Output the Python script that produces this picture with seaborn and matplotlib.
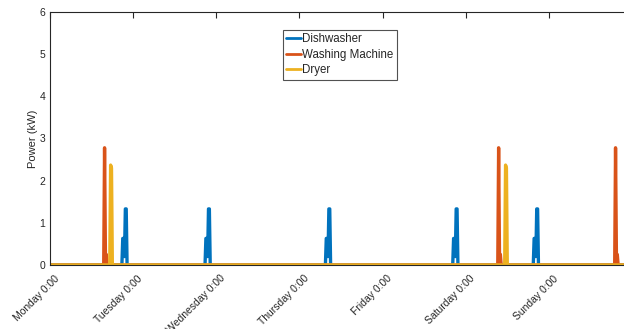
import numpy as np
import pandas as pd
import matplotlib
matplotlib.use("Agg")
import matplotlib.pyplot as plt
import matplotlib.transforms as mtransforms
import seaborn as sns

# Weekly appliance schedule, 15-minute resolution (hours since Monday 0:00)
day_labels = ["Monday 0:00", "Tuesday 0:00", "Wednesday 0:00", "Thursday 0:00",
              "Friday 0:00", "Saturday 0:00", "Sunday 0:00"]
appliances = ["Dishwasher", "Washing Machine", "Dryer"]

# Power draw of one cycle, kW per 15-minute step
dishwasher_cycle_kw = [0.63, 0.63, 0.2, 1.33, 1.33]
washer_cycle_kw = [2.78, 0.25, 0.25]
dryer_cycle_kw = [2.37, 2.3]

# Cycle start times, hours after Monday 0:00
dishwasher_start_h = [21.0, 45.0, 79.75, 116.5, 139.75]
washer_start_h = [15.75, 129.5, 163.25]
dryer_start_h = [17.5, 131.5]

steps_per_hour = 4
n_steps = 7 * 24 * steps_per_hour
time_days = np.arange(n_steps + 1) / (24 * steps_per_hour)


def schedule(cycle, starts):
    power = np.zeros(n_steps + 1)
    for h in starts:
        i = int(round(h * steps_per_hour))
        power[i:i + len(cycle)] = cycle[:max(0, n_steps + 1 - i)]
    return power


series = {
    "Dishwasher": schedule(dishwasher_cycle_kw, dishwasher_start_h),
    "Washing Machine": schedule(washer_cycle_kw, washer_start_h),
    "Dryer": schedule(dryer_cycle_kw, dryer_start_h),
}
df = pd.concat(
    [pd.DataFrame({"t": time_days, "power": p, "appliance": name}) for name, p in series.items()],
    ignore_index=True,
)

sns.set_style("white")
plt.rcParams["font.family"] = ["Liberation Sans", "DejaVu Sans"]

W, H = 624, 329
fig = plt.figure(figsize=(W / 100, H / 100), dpi=100)
ax = fig.add_axes([50 / W, (H - 265) / H, 582 / W, 253 / H])

palette = {"Dishwasher": "#0072BD", "Washing Machine": "#D95319", "Dryer": "#EDB120"}
sns.lineplot(data=df, x="t", y="power", hue="appliance", hue_order=appliances,
             palette=palette, estimator=None, linewidth=2.4, ax=ax)

ax.set_xlim(0, 7)
ax.set_ylim(0, 6)
ax.set_xticks(range(7))
ax.set_xticklabels(day_labels, rotation=45, ha="right", rotation_mode="anchor")
ax.set_yticks(range(7))
ax.set_xlabel("")
ax.set_ylabel("Power (kW)", fontsize=8, color="#262626")
ax.yaxis.set_label_coords(-0.02, 0.5)

for s in ax.spines.values():
    s.set_color("#262626")
    s.set_linewidth(0.8)
ax.tick_params(direction="in", length=4, width=0.8, top=True, right=True,
               labelsize=7.5, labelcolor="#262626", color="#262626")
ax.tick_params(axis="x", pad=6)

# nudge the rotated day labels slightly to the right of their ticks
shift = mtransforms.ScaledTranslation(4 / 100, 0, fig.dpi_scale_trans)
for lbl in ax.get_xticklabels():
    lbl.set_transform(lbl.get_transform() + shift)

leg = ax.legend(loc="upper left", bbox_to_anchor=(0.400, 0.93), fontsize=8.3,
                frameon=True, fancybox=False, handlelength=1.3, handletextpad=0.1,
                borderpad=0.3, labelspacing=0.3, borderaxespad=0)
leg.get_frame().set_edgecolor("#262626")
leg.get_frame().set_linewidth(0.8)
for line in leg.get_lines():
    line.set_linewidth(2)

fig.savefig("out.png", dpi=100)
